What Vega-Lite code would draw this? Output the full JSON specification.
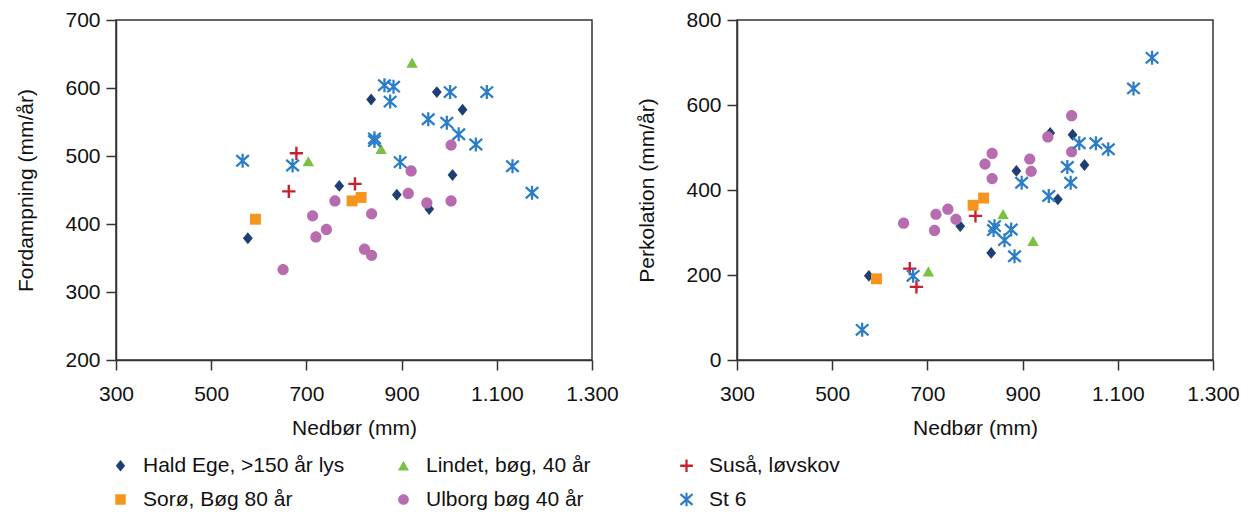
{
  "$schema": "https://vega.github.io/schema/vega-lite/v6.json",
  "background": "white",
  "padding": {"left": 15, "top": 8, "right": 5, "bottom": 5},
  "spacing": 16,
  "datasets": {
    "fordampning": [
      {"s": "Hald Ege, >150 år lys", "x": 836, "y": 583},
      {"s": "Hald Ege, >150 år lys", "x": 974, "y": 594},
      {"s": "Hald Ege, >150 år lys", "x": 1028, "y": 568},
      {"s": "Hald Ege, >150 år lys", "x": 769, "y": 456},
      {"s": "Hald Ege, >150 år lys", "x": 890, "y": 443},
      {"s": "Hald Ege, >150 år lys", "x": 1007, "y": 472},
      {"s": "Hald Ege, >150 år lys", "x": 958, "y": 422},
      {"s": "Hald Ege, >150 år lys", "x": 577, "y": 379},
      {"s": "Lindet, bøg, 40 år", "x": 922, "y": 637},
      {"s": "Lindet, bøg, 40 år", "x": 704, "y": 492},
      {"s": "Lindet, bøg, 40 år", "x": 857, "y": 510},
      {"s": "Suså, løvskov", "x": 679, "y": 504},
      {"s": "Suså, løvskov", "x": 663, "y": 448},
      {"s": "Suså, løvskov", "x": 802, "y": 459},
      {"s": "Sorø, Bøg 80 år", "x": 593, "y": 407},
      {"s": "Sorø, Bøg 80 år", "x": 796, "y": 434},
      {"s": "Sorø, Bøg 80 år", "x": 815, "y": 439},
      {"s": "Ulborg bøg 40 år", "x": 651, "y": 333},
      {"s": "Ulborg bøg 40 år", "x": 713, "y": 412},
      {"s": "Ulborg bøg 40 år", "x": 720, "y": 381},
      {"s": "Ulborg bøg 40 år", "x": 742, "y": 392},
      {"s": "Ulborg bøg 40 år", "x": 760, "y": 434},
      {"s": "Ulborg bøg 40 år", "x": 837, "y": 415},
      {"s": "Ulborg bøg 40 år", "x": 822, "y": 363},
      {"s": "Ulborg bøg 40 år", "x": 837, "y": 354},
      {"s": "Ulborg bøg 40 år", "x": 914, "y": 445},
      {"s": "Ulborg bøg 40 år", "x": 920, "y": 478},
      {"s": "Ulborg bøg 40 år", "x": 953, "y": 431},
      {"s": "Ulborg bøg 40 år", "x": 1004, "y": 516},
      {"s": "Ulborg bøg 40 år", "x": 1004, "y": 434},
      {"s": "St 6", "x": 566, "y": 493},
      {"s": "St 6", "x": 671, "y": 486},
      {"s": "St 6", "x": 864, "y": 604},
      {"s": "St 6", "x": 883, "y": 602},
      {"s": "St 6", "x": 876, "y": 580},
      {"s": "St 6", "x": 843, "y": 526},
      {"s": "St 6", "x": 843, "y": 522},
      {"s": "St 6", "x": 897, "y": 491},
      {"s": "St 6", "x": 956, "y": 554},
      {"s": "St 6", "x": 1002, "y": 594},
      {"s": "St 6", "x": 995, "y": 549},
      {"s": "St 6", "x": 1020, "y": 532},
      {"s": "St 6", "x": 1056, "y": 517},
      {"s": "St 6", "x": 1079, "y": 594},
      {"s": "St 6", "x": 1133, "y": 485},
      {"s": "St 6", "x": 1174, "y": 446}
    ],
    "perkolation": [
      {"s": "Hald Ege, >150 år lys", "x": 577, "y": 198},
      {"s": "Hald Ege, >150 år lys", "x": 769, "y": 315},
      {"s": "Hald Ege, >150 år lys", "x": 834, "y": 252},
      {"s": "Hald Ege, >150 år lys", "x": 887, "y": 445},
      {"s": "Hald Ege, >150 år lys", "x": 958, "y": 534},
      {"s": "Hald Ege, >150 år lys", "x": 1005, "y": 530},
      {"s": "Hald Ege, >150 år lys", "x": 1030, "y": 459},
      {"s": "Hald Ege, >150 år lys", "x": 974, "y": 378},
      {"s": "Lindet, bøg, 40 år", "x": 702, "y": 208},
      {"s": "Lindet, bøg, 40 år", "x": 859, "y": 343},
      {"s": "Lindet, bøg, 40 år", "x": 922, "y": 280},
      {"s": "Suså, løvskov", "x": 663, "y": 215},
      {"s": "Suså, løvskov", "x": 677, "y": 172},
      {"s": "Suså, løvskov", "x": 801, "y": 339},
      {"s": "Sorø, Bøg 80 år", "x": 593, "y": 191},
      {"s": "Sorø, Bøg 80 år", "x": 796, "y": 364},
      {"s": "Sorø, Bøg 80 år", "x": 818, "y": 381},
      {"s": "Ulborg bøg 40 år", "x": 650, "y": 322},
      {"s": "Ulborg bøg 40 år", "x": 718, "y": 343},
      {"s": "Ulborg bøg 40 år", "x": 715, "y": 305},
      {"s": "Ulborg bøg 40 år", "x": 743, "y": 355},
      {"s": "Ulborg bøg 40 år", "x": 760, "y": 331},
      {"s": "Ulborg bøg 40 år", "x": 821, "y": 461},
      {"s": "Ulborg bøg 40 år", "x": 836, "y": 486},
      {"s": "Ulborg bøg 40 år", "x": 836, "y": 427},
      {"s": "Ulborg bøg 40 år", "x": 915, "y": 473},
      {"s": "Ulborg bøg 40 år", "x": 918, "y": 444},
      {"s": "Ulborg bøg 40 år", "x": 953, "y": 525},
      {"s": "Ulborg bøg 40 år", "x": 1003, "y": 575},
      {"s": "Ulborg bøg 40 år", "x": 1003, "y": 490},
      {"s": "St 6", "x": 563, "y": 71},
      {"s": "St 6", "x": 670, "y": 198},
      {"s": "St 6", "x": 841, "y": 315},
      {"s": "St 6", "x": 839, "y": 306},
      {"s": "St 6", "x": 862, "y": 282},
      {"s": "St 6", "x": 876, "y": 307},
      {"s": "St 6", "x": 883, "y": 244},
      {"s": "St 6", "x": 898, "y": 417},
      {"s": "St 6", "x": 955, "y": 386},
      {"s": "St 6", "x": 994, "y": 454},
      {"s": "St 6", "x": 1001, "y": 417},
      {"s": "St 6", "x": 1019, "y": 510},
      {"s": "St 6", "x": 1054, "y": 510},
      {"s": "St 6", "x": 1080, "y": 496},
      {"s": "St 6", "x": 1133, "y": 639},
      {"s": "St 6", "x": 1172, "y": 711}
    ]
  },
  "hconcat": [
    {
      "width": 476,
      "height": 340,
      "data": {"name": "fordampning"},
      "mark": {"type": "point", "filled": true, "opacity": 1, "size": 196},
      "encoding": {
        "x": {"field": "x", "type": "quantitative", "title": "Nedbør (mm)",
          "scale": {"domain": [300, 1300], "nice": false, "zero": false},
          "axis": {"values": [300, 500, 700, 900, 1100, 1300], "labelExpr": "replace(format(datum.value, ','), ',', '.')"}},
        "y": {"field": "y", "type": "quantitative", "title": "Fordampning (mm/år)",
          "scale": {"domain": [200, 700], "nice": false, "zero": false},
          "axis": {"values": [200, 300, 400, 500, 600, 700]}},
        "color": {"field": "s", "type": "nominal",
          "scale": {"domain": ["Hald Ege, >150 år lys", "Lindet, bøg, 40 år", "Suså, løvskov", "Sorø, Bøg 80 år", "Ulborg bøg 40 år", "St 6"],
            "range": ["#1e3f73", "#7ac143", "#c8202f", "#f7941d", "#b86cb0", "#2a7dc9"]},
          "legend": {"orient": "none", "legendX": -6, "legendY": 435, "columns": 3, "direction": "horizontal", "title": null}},
        "shape": {"field": "s", "type": "nominal",
          "scale": {"domain": ["Hald Ege, >150 år lys", "Lindet, bøg, 40 år", "Suså, løvskov", "Sorø, Bøg 80 år", "Ulborg bøg 40 år", "St 6"],
            "range": [
              "M0,-0.85L0.7,0L0,0.85L-0.7,0Z",
              "M0,-0.75L0.82,0.7L-0.82,0.7Z",
              "M-0.17,-0.95H0.17V-0.17H0.95V0.17H0.17V0.95H-0.17V0.17H-0.95V-0.17H-0.17Z",
              "M-0.78,-0.78H0.78V0.78H-0.78Z",
              "M-0.8,0A0.8,0.8,0,1,1,0.8,0A0.8,0.8,0,1,1,-0.8,0Z",
              "M-0.16,-1H0.16V1H-0.16ZM-0.794,-0.92L1.006,0.68L0.794,0.92L-1.006,-0.68ZM1.006,-0.68L-0.794,0.92L-1.006,0.68L0.794,-0.92Z"
            ]},
          "legend": {"orient": "none", "legendX": -6, "legendY": 435, "columns": 3, "direction": "horizontal", "title": null}}
      }
    },
    {
      "width": 476,
      "height": 340,
      "data": {"name": "perkolation"},
      "mark": {"type": "point", "filled": true, "opacity": 1, "size": 196},
      "encoding": {
        "x": {"field": "x", "type": "quantitative", "title": "Nedbør (mm)",
          "scale": {"domain": [300, 1300], "nice": false, "zero": false},
          "axis": {"values": [300, 500, 700, 900, 1100, 1300], "labelExpr": "replace(format(datum.value, ','), ',', '.')"}},
        "y": {"field": "y", "type": "quantitative", "title": "Perkolation (mm/år)",
          "scale": {"domain": [0, 800], "nice": false},
          "axis": {"values": [0, 200, 400, 600, 800]}},
        "color": {"field": "s", "type": "nominal"},
        "shape": {"field": "s", "type": "nominal"}
      }
    }
  ],
  "resolve": {"scale": {"color": "shared", "shape": "shared"}},
  "config": {
    "font": "Liberation Sans",
    "view": {"stroke": "#333333", "strokeWidth": 1.5},
    "axis": {
      "grid": false,
      "domainColor": "#333333",
      "domainWidth": 1.5,
      "tickColor": "#333333",
      "tickWidth": 1.5,
      "tickSize": 10,
      "labelFontSize": 21,
      "labelColor": "#111111",
      "titleFontSize": 21,
      "titleFontWeight": "normal",
      "titleColor": "#111111",
      "labelFont": "Liberation Sans",
      "titleFont": "Liberation Sans"
    },
    "axisX": {"labelPadding": 13, "titlePadding": 13, "labelFlush": false},
    "axisY": {"labelPadding": 6, "titlePadding": 28},
    "legend": {
      "labelFontSize": 21,
      "labelColor": "#111111",
      "labelFont": "Liberation Sans",
      "symbolSize": 180,
      "symbolOpacity": 1,
      "labelOffset": 12,
      "rowPadding": 12,
      "columnPadding": 48,
      "gridAlign": "all",
      "labelLimit": 400
    }
  }
}
